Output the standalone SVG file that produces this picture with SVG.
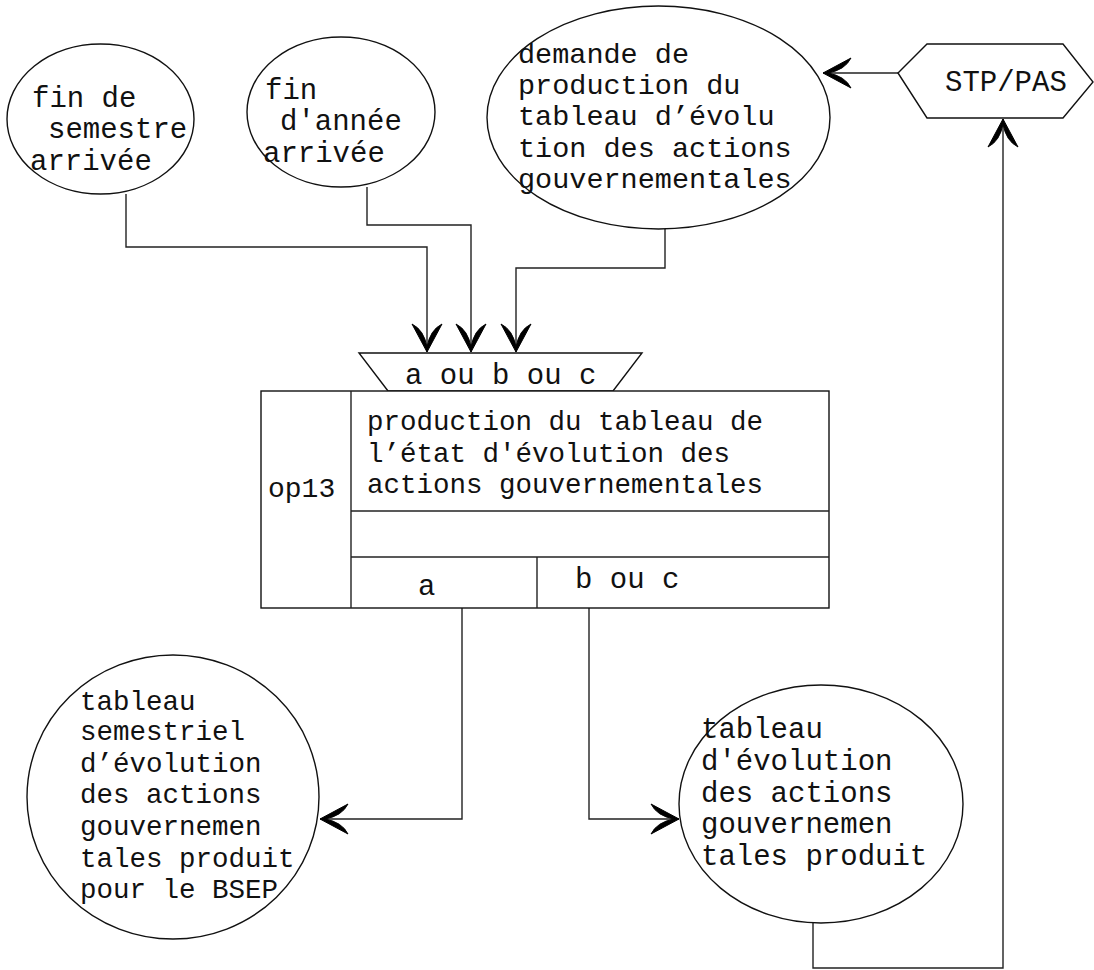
<svg xmlns="http://www.w3.org/2000/svg" width="1094" height="970" viewBox="0 0 1094 970">
<style>
.shape{fill:#fff;stroke:#111;stroke-width:1.4}
.line{fill:none;stroke:#222;stroke-width:1.4}
text{font-family:"Liberation Mono","DejaVu Sans Mono",monospace;fill:#111}
.f29{font-size:29px}
.f285{font-size:28.5px}
.f28{font-size:28px}
.f275{font-size:27.5px}
</style>
<defs>
<marker id="arr" viewBox="-30 -16 32 32" markerWidth="32" markerHeight="32" refX="0" refY="0" orient="auto" markerUnits="userSpaceOnUse" overflow="visible">
<path d="M0,0 L-28,-15 Q-22,-3 -5,0 Q-22,3 -28,15 Z" fill="#000" stroke="#000" stroke-width="1" stroke-linejoin="miter"/>
</marker>
</defs>
<rect width="1094" height="970" fill="#fff"/>
<g id="connectors">
<path class="line" d="M126,194 V247 H427 V352" marker-end="url(#arr)"/>
<path class="line" d="M367,187 V225 H471 V352" marker-end="url(#arr)"/>
<path class="line" d="M665,229 V268 H516 V352" marker-end="url(#arr)"/>
<path class="line" d="M898,73 H823" marker-end="url(#arr)"/>
<path class="line" d="M462,608 V819 H320" marker-end="url(#arr)"/>
<path class="line" d="M589,608 V819 H679" marker-end="url(#arr)"/>
<path class="line" d="M813,922 V968 H1003 V119" marker-end="url(#arr)"/>
</g>
<g id="n-fin-semestre">
<ellipse class="shape" cx="100.5" cy="119" rx="93.5" ry="75"/>
<text class="f29" x="32" y="107">fin de</text>
<text class="f29" x="48" y="138">semestre</text>
<text class="f29" x="30" y="170">arrivée</text>
</g>
<g id="n-fin-annee">
<ellipse class="shape" cx="341" cy="112" rx="94" ry="75"/>
<text class="f29" x="265" y="99">fin</text>
<text class="f29" x="280" y="130">d'année</text>
<text class="f29" x="263" y="162">arrivée</text>
</g>
<g id="n-demande">
<ellipse class="shape" cx="658.5" cy="117.5" rx="171.5" ry="111.5"/>
<text class="f285" x="518" y="63">demande de</text>
<text class="f285" x="518" y="94">production du</text>
<text class="f285" x="518" y="125">tableau d’évolu</text>
<text class="f285" x="518" y="157">tion des actions</text>
<text class="f285" x="518" y="188">gouvernementales</text>
</g>
<g id="n-stp-pas">
<polygon class="shape" points="898,73 927,44 1063,44 1093,82 1063,118 927,118"/>
<text class="f29" x="945" y="91">STP/PAS</text>
</g>
<g id="n-op13">
<polygon class="shape" points="359,353 642,353 613,391 388,391"/>
<text class="f29" x="405" y="384">a ou b ou c</text>
<rect class="shape" x="261" y="391" width="568" height="217"/>
<line class="line" x1="351" y1="391" x2="351" y2="608"/>
<line class="line" x1="351" y1="511" x2="829" y2="511"/>
<line class="line" x1="351" y1="557" x2="829" y2="557"/>
<line class="line" x1="537" y1="557" x2="537" y2="608"/>
<text class="f28" x="268" y="497">op13</text>
<text class="f275" x="367" y="430">production du tableau de</text>
<text class="f275" x="367" y="462">l’état d'évolution des</text>
<text class="f275" x="367" y="493">actions gouvernementales</text>
<text class="f29" x="418" y="595">a</text>
<text class="f29" x="575" y="588">b ou c</text>
</g>
<g id="n-tableau-semestriel">
<ellipse class="shape" cx="173" cy="797" rx="146" ry="142"/>
<text class="f275" x="80" y="710">tableau</text>
<text class="f275" x="80" y="740">semestriel</text>
<text class="f275" x="80" y="772">d’évolution</text>
<text class="f275" x="80" y="803">des actions</text>
<text class="f275" x="80" y="835">gouvernemen</text>
<text class="f275" x="80" y="867">tales produit</text>
<text class="f275" x="80" y="898">pour le BSEP</text>
</g>
<g id="n-tableau-evolution">
<ellipse class="shape" cx="821" cy="804" rx="142" ry="119"/>
<text class="f29" x="701" y="738">tableau</text>
<text class="f29" x="701" y="770">d'évolution</text>
<text class="f29" x="701" y="802">des actions</text>
<text class="f29" x="701" y="833">gouvernemen</text>
<text class="f29" x="701" y="865">tales produit</text>
</g>
</svg>
